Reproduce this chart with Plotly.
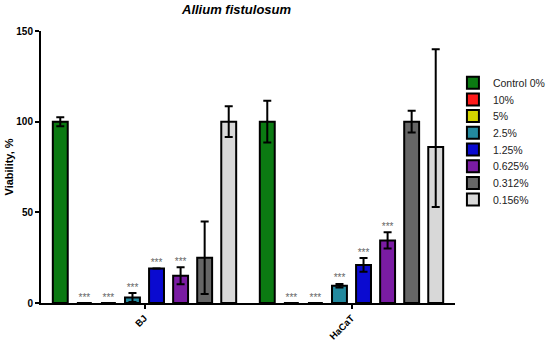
import plotly.graph_objects as go

categories = ["BJ", "HaCaT"]
series_names = ["Control 0%", "10%", "5%", "2.5%", "1.25%", "0.625%", "0.312%", "0.156%"]
series_colors = ["#0b7a12", "#ff1a1a", "#d4d400", "#23899e", "#0a0ad0", "#7a1ca3", "#666666", "#d8d8d8"]

# viability values [BJ, HaCaT]
values = [
    [100, 100],
    [0, 0],
    [0, 0],
    [3, 9.5],
    [19, 21],
    [15, 34.5],
    [25, 100],
    [100, 86],
]
err_plus = [
    [2.5, 11.5],
    [0, 0],
    [0, 0],
    [2.5, 1],
    [0, 3.8],
    [4.7, 4.5],
    [20, 6],
    [8.5, 54],
]
err_minus = [
    [2.5, 11.5],
    [0, 0],
    [0, 0],
    [2.5, 1],
    [0, 3.8],
    [4.7, 4.5],
    [20, 6],
    [8.5, 33],
]
signif = [
    ["", ""],
    ["***", "***"],
    ["***", "***"],
    ["***", "***"],
    ["***", "***"],
    ["***", "***"],
    ["", ""],
    ["", ""],
]

BARGAP = 0.07
BARGROUPGAP = 0.38
FONT = "Arial, Liberation Sans, sans-serif"
W, H = 550, 343
ML, MR, MT, MB = 41, 95, 31, 40
PLOT_W = W - ML - MR
PLOT_H = H - MT - MB
LEG_TOP_PX, LEG_STEP_PX = 82.7, 16.7

cat_idx = list(range(len(categories)))
n = len(series_names)
slot = (1 - BARGAP) / n

fig = go.Figure()
legends = {}
for i, name in enumerate(series_names):
    lg = "legend" if i == 0 else f"legend{i + 1}"
    fig.add_trace(go.Bar(
        x=cat_idx, y=values[i], name=name, legend=lg,
        marker=dict(color=series_colors[i], line=dict(color="black", width=2)),
        error_y=dict(type="data", array=err_plus[i], arrayminus=err_minus[i],
                     symmetric=False, color="black", thickness=2, width=4),
    ))
    ypx = LEG_TOP_PX + i * LEG_STEP_PX
    legends[lg] = dict(
        x=0.995, y=(H - MB - ypx) / PLOT_H, xanchor="left", yanchor="middle",
        font=dict(size=10.5, family=FONT, color="#222222"),
        bgcolor="rgba(0,0,0,0)", itemwidth=30,
    )

# significance stars
for i in range(n):
    xs, ys, ts = [], [], []
    for j in cat_idx:
        if signif[i][j]:
            xs.append(j - (1 - BARGAP) / 2 + (i + 0.5) * slot)
            ys.append(values[i][j] + err_plus[i][j])
            ts.append(signif[i][j])
    if xs:
        fig.add_trace(go.Scatter(
            x=xs, y=ys, text=ts, mode="text", textposition="top center",
            textfont=dict(size=10, color="#666666", family=FONT),
            showlegend=False, hoverinfo="skip", cliponaxis=False,
        ))

fig.update_layout(
    width=W, height=H,
    margin=dict(l=ML, r=MR, t=MT, b=MB, autoexpand=False),
    paper_bgcolor="white", plot_bgcolor="white",
    barmode="group", bargap=BARGAP, bargroupgap=BARGROUPGAP,
    font=dict(family=FONT, color="black"),
    showlegend=True,
    annotations=[
        dict(text="<b><i>Allium fistulosum</i></b>", x=0.473, xref="paper",
             xanchor="center", y=(H - MB - 9) / PLOT_H, yref="paper", yanchor="middle",
             showarrow=False, font=dict(size=13, family=FONT, color="black")),
        dict(text="<b>Viability, %</b>", textangle=-90, x=(8.5 - ML) / PLOT_W, xref="paper",
             xanchor="center", y=0.5, yref="paper", yanchor="middle",
             showarrow=False, font=dict(size=11, family=FONT, color="black")),
    ],
    **legends,
)
fig.update_xaxes(
    range=[-0.5, 1.5], tickvals=cat_idx, ticktext=categories,
    showline=True, linecolor="black", linewidth=2, zeroline=False,
    ticks="outside", ticklen=4, tickwidth=2, tickcolor="black",
    tickangle=-45, tickfont=dict(size=9.5, family=FONT, color="black", weight="bold"),
    showgrid=False, automargin=False,
)
fig.update_yaxes(
    range=[0, 150], tickvals=[0, 50, 100, 150],
    showline=True, linecolor="black", linewidth=2, zeroline=False,
    ticks="outside", ticklen=4, tickwidth=2, tickcolor="black",
    tickfont=dict(size=10, family=FONT, color="black", weight="bold"),
    showgrid=False, automargin=False,
)

fig.write_html(
    "out.html",
    config={"displayModeBar": False},
    post_script="document.body.style.margin='0';document.body.style.overflow='hidden';",
)
